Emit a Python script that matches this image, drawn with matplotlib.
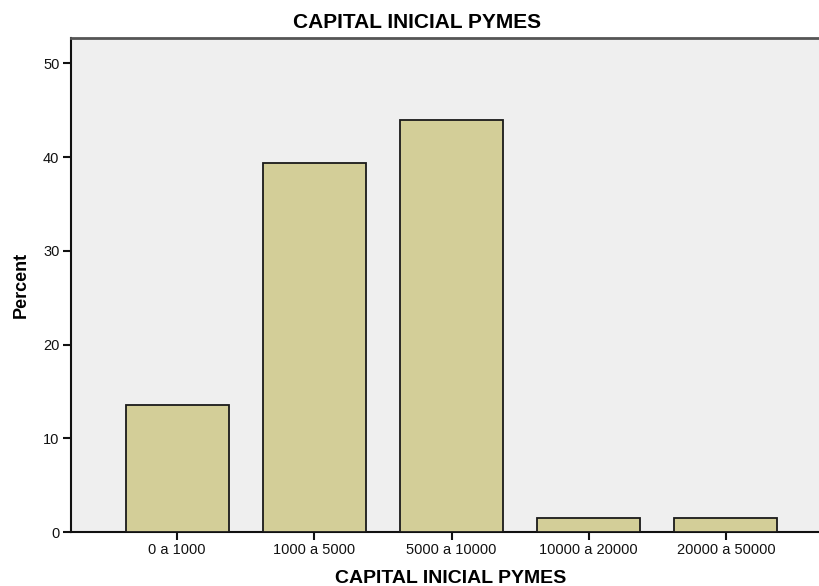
import matplotlib
matplotlib.use("Agg")
import matplotlib.pyplot as plt

categories = ["0 a 1000", "1000 a 5000", "5000 a 10000", "10000 a 20000", "20000 a 50000"]
percent = [13.6, 39.4, 44.0, 1.5, 1.5]
yticks = [0, 10, 20, 30, 40, 50]

plt.rcParams["font.family"] = ["Liberation Sans", "DejaVu Sans"]

W, H = 819, 586
fig = plt.figure(figsize=(W / 100, H / 100), dpi=100)
fig.patch.set_facecolor("white")

left_px, right_px, top_px, bottom_px = 70.5, 832.5, 38, 532
ax = fig.add_axes([left_px / W, 1 - bottom_px / H,
                   (right_px - left_px) / W, (bottom_px - top_px) / H])
ax.set_facecolor("#efefef")

x = list(range(len(categories)))
ax.bar(x, percent, width=0.75, color="#d3ce98", edgecolor="#1a1a1a",
       linewidth=1.3, zorder=3)

ax.set_xlim(-0.777, len(categories) - 1 + 0.777)
ax.set_ylim(0, 52.7)
ax.set_yticks(yticks)
ax.set_yticklabels([str(t) for t in yticks], fontsize=10.5)
ax.set_xticks(x)
ax.set_xticklabels(categories, fontsize=10.5)

ax.spines["right"].set_visible(False)
ax.spines["top"].set_color("#555555")
ax.spines["top"].set_linewidth(2)
for side in ("left", "bottom"):
    ax.spines[side].set_color("#111111")
    ax.spines[side].set_linewidth(1.5)
ax.tick_params(axis="both", length=6, width=1.5, color="#111111",
               labelcolor="#111111", pad=2)

fig.text(417 / W, 1 - 22 / H, "CAPITAL INICIAL PYMES", ha="center", va="center",
         fontsize=15, fontweight="bold")
fig.text(451 / W, 1 - 583 / H, "CAPITAL INICIAL PYMES", ha="center",
         va="baseline", fontsize=14, fontweight="bold")
fig.text(21 / W, 1 - 285 / H, "Percent", ha="center", va="center",
         rotation=90, fontsize=13, fontweight="bold")

fig.savefig("out.png", dpi=100)
